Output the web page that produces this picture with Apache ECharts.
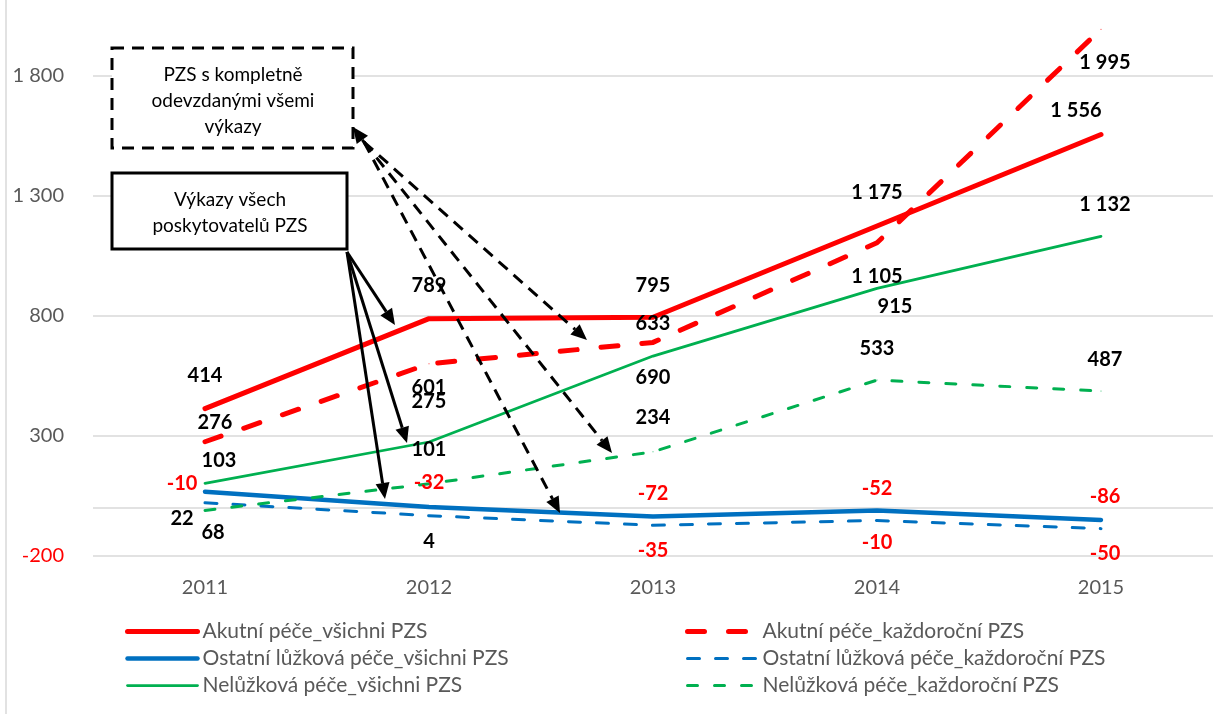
<!DOCTYPE html>
<html>
<head>
<meta charset="utf-8">
<script src="https://cdn.jsdelivr.net/npm/echarts@6/dist/echarts.min.js"></script>
<style>
  html, body { margin: 0; padding: 0; background: #fff; }
  #main { width: 1213px; height: 714px; }
</style>
</head>
<body>
<div id="main"></div>
<script>
// data
var years = ['2011', '2012', '2013', '2014', '2015'];
var akutniVsichni = [414, 789, 795, 1175, 1556];
var akutniKazdorocni = [276, 601, 690, 1105, 1995];
var ostatniVsichni = [68, 4, -35, -10, -50];
var ostatniKazdorocni = [22, -32, -72, -52, -86];
var nelVsichni = [103, 275, 633, 915, 1132];
var nelKazdorocni = [-10, 101, 234, 533, 487];
var yLabels = [-200, 300, 800, 1300, 1800];
var yLines = [-200, 0, 300, 800, 1300, 1800];

var names = [
    'Akutní péče_všichni PZS', 'Akutní péče_každoroční PZS',
    'Ostatní lůžková péče_všichni PZS', 'Ostatní lůžková péče_každoroční PZS',
    'Nelůžková péče_všichni PZS', 'Nelůžková péče_každoroční PZS'
];

var FONT = 'Lato';

function fmt(v) {
    var s = String(Math.abs(v)).replace(/\B(?=(\d{3})+(?!\d))/g, ' ');
    return (v < 0 ? '-' : '') + s;
}

// where each data label sits, relative to its point (like the moved excel labels)
var labelOffsets = [
    [[0, -33], [0, -33], [0, -32], [0, -33], [-25, -24]],
    [[10, -19], [0, 24], [0, 35], [0, 34], [4, 33]],
    [[8, 41], [0, 35], [0, 34], [0, 32], [4, 34]],
    [[-23, 16], [0, -33], [0, -32], [0, -32], [4, -32]],
    [[14, -23], [0, -40], [0, -33], [18, 18], [4, -32]],
    [[-23, -27], [0, -34], [0, -34], [0, -32], [4, -32]]
];

function makeSeries(idx, values, color, width, dash) {
    return {
        name: names[idx],
        type: 'line',
        data: values.map(function (v, i) {
            return { value: v, label: { offset: labelOffsets[idx][i] } };
        }),
        symbol: 'circle',
        symbolSize: 1,
        itemStyle: { color: color },
        lineStyle: { color: color, width: width, type: dash || 'solid', cap: 'round', join: 'round' },
        label: {
            show: true,
            position: 'inside',
            formatter: function (p) {
                return (p.value < 0 ? '{n|' : '{p|') + fmt(p.value) + '}';
            },
            rich: {
                p: { color: '#000', fontWeight: 'bold', fontSize: 20, fontFamily: FONT },
                n: { color: '#ff0000', fontWeight: 'bold', fontSize: 20, fontFamily: FONT }
            }
        },
        emphasis: { disabled: true }
    };
}

function arrow(x1, y1, x2, y2, dashed) {
    var dx = x2 - x1, dy = y2 - y1;
    var L = Math.sqrt(dx * dx + dy * dy), ux = dx / L, uy = dy / L;
    var hl = 16, hw = 7;
    var bx = x2 - ux * hl, by = y2 - uy * hl;
    return [
        { type: 'line', z: 100, silent: true,
          shape: { x1: x1, y1: y1, x2: bx, y2: by },
          style: { stroke: '#000', lineWidth: 3, lineDash: dashed ? [12, 8] : null } },
        { type: 'polygon', z: 100, silent: true,
          shape: { points: [[x2, y2], [bx - uy * hw, by + ux * hw], [bx + uy * hw, by - ux * hw]] },
          style: { fill: '#000' } }
    ];
}

var graphics = [
    { type: 'line', silent: true, shape: { x1: 6, y1: 0, x2: 6, y2: 714 },
      style: { stroke: '#d9d9d9', lineWidth: 1.5 } },
    { type: 'rect', z: 100, silent: true, shape: { x: 112, y: 48, width: 241, height: 100 },
      style: { fill: '#fff', stroke: '#000', lineWidth: 3, lineDash: [12, 8] } },
    { type: 'text', z: 101, silent: true, x: 233, y: 101,
      style: { text: 'PZS s kompletně\nodevzdanými všemi\nvýkazy', align: 'center', verticalAlign: 'middle',
               fontSize: 19, fontFamily: FONT, lineHeight: 26, fill: '#000' } },
    { type: 'rect', z: 100, silent: true, shape: { x: 112, y: 173, width: 235, height: 76 },
      style: { fill: '#fff', stroke: '#000', lineWidth: 3 } },
    { type: 'text', z: 101, silent: true, x: 230, y: 213,
      style: { text: 'Výkazy všech\nposkytovatelů PZS', align: 'center', verticalAlign: 'middle',
               fontSize: 19, fontFamily: FONT, lineHeight: 26, fill: '#000' } }
];
graphics = graphics
    .concat(arrow(347, 252, 395, 325, false))
    .concat(arrow(347, 252, 407, 443, false))
    .concat(arrow(347, 252, 385, 499, false))
    .concat(arrow(364, 142, 587, 340, true))
    .concat(arrow(364, 142, 612, 453, true))
    .concat(arrow(364, 142, 560, 513, true))
    .concat(arrow(366, 145, 353, 127, false));

var myChart = echarts.init(document.getElementById('main'));

var legendBase = {
    orient: 'vertical',
    top: 621,
    padding: 0,
    itemWidth: 70,
    itemHeight: 14,
    itemGap: 6,
    selectedMode: false,
    textStyle: { fontSize: 21, color: '#595959', fontFamily: FONT },
    lineStyle: { width: 'inherit', cap: 'round' },
    itemStyle: { opacity: 0 }
};

var option = {
    animation: false,
    backgroundColor: '#fff',
    grid: { left: 93, top: 28, width: 1125, height: 528 },
    xAxis: {
        type: 'category',
        data: years,
        axisLine: { show: false, onZero: false },
        axisTick: { show: false },
        splitLine: { show: false },
        axisLabel: { margin: 22, fontSize: 20, color: '#595959', fontFamily: FONT }
    },
    yAxis: {
        type: 'value',
        min: -200,
        max: 2000,
        interval: 500,
        axisLine: { show: false },
        axisTick: { show: false, customValues: yLines },
        splitLine: { show: true, lineStyle: { color: '#d9d9d9', width: 1.5 } },
        axisLabel: {
            customValues: yLabels,
            margin: 29,
            formatter: function (v) {
                return (v < 0 ? '{n|' : '{p|') + fmt(v) + '}';
            },
            rich: {
                p: { color: '#595959', fontSize: 20, fontFamily: FONT },
                n: { color: '#ff0000', fontSize: 20, fontFamily: FONT }
            }
        }
    },
    legend: [
        Object.assign({}, legendBase, { left: 125, data: [names[0], names[2], names[4]] }),
        Object.assign({}, legendBase, { left: 685, data: [names[1], names[3], names[5]] })
    ],
    graphic: graphics,
    series: [
        makeSeries(0, akutniVsichni, '#ff0000', 5),
        makeSeries(1, akutniKazdorocni, '#ff0000', 5, [17, 24]),
        makeSeries(2, ostatniVsichni, '#0070c0', 4.5),
        makeSeries(3, ostatniKazdorocni, '#0070c0', 3, [12, 16]),
        makeSeries(4, nelVsichni, '#00b050', 2.75),
        makeSeries(5, nelKazdorocni, '#00b050', 3, [10, 17])
    ]
};

myChart.setOption(option);
</script>
</body>
</html>
